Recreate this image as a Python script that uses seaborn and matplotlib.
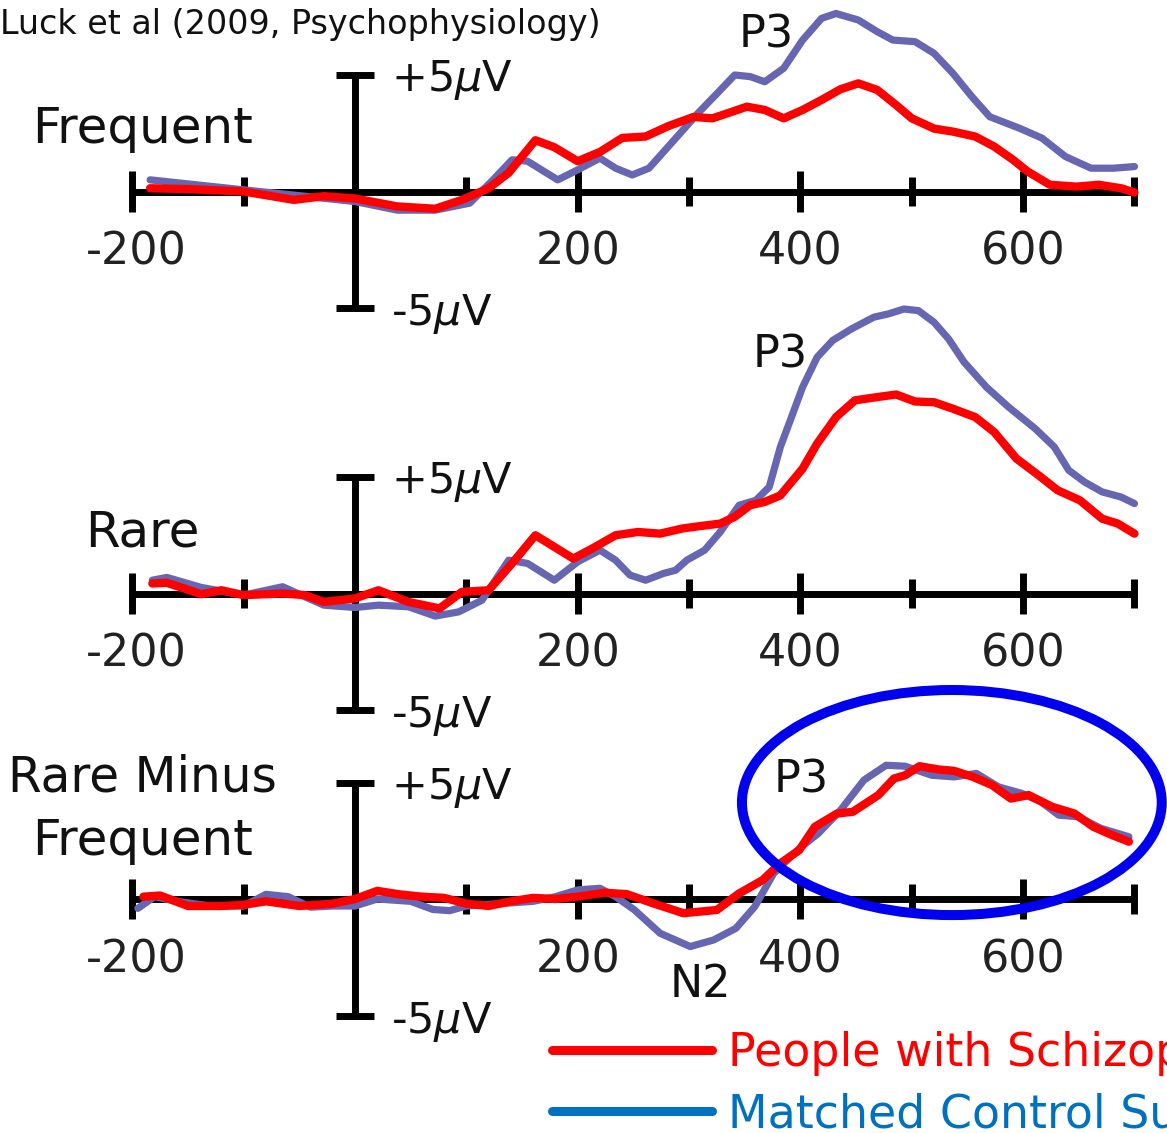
import matplotlib
matplotlib.use("Agg")
import matplotlib.pyplot as plt
from matplotlib.patches import Ellipse
from matplotlib.lines import Line2D
import pandas as pd
import seaborn as sns

# ---- ERP waveforms (ms, microvolts) ----
freq_pt_ms = [-184, -148, -100, -55, -28, 0, 38, 72, 96, 120, 138, 162, 179, 200, 220, 240, 261, 281,
              304, 321, 352, 368, 385, 402, 419, 436, 452, 469, 486, 500, 520, 537, 557, 574, 591,
              604, 624, 648, 668, 688, 700]
freq_pt_uv = [0.14, 0.10, 0.0, -0.36, -0.2, -0.3, -0.64, -0.74, -0.36, 0.14, 0.8, 2.2, 1.9, 1.3, 1.7,
              2.3, 2.36, 2.8, 3.2, 3.14, 3.64, 3.5, 3.14, 3.5, 3.93, 4.39, 4.64, 4.36, 3.71, 3.14,
              2.7, 2.57, 2.36, 1.93, 1.36, 0.86, 0.29, 0.21, 0.29, 0.14, -0.04]
freq_ct_ms = [-184, -100, 0, 38, 72, 103, 124, 141, 155, 182, 200, 220, 234, 249, 264, 284, 308, 325,
              341, 355, 368, 385, 402, 419, 432, 452, 469, 483, 503, 520, 537, 554, 570, 597, 617,
              638, 661, 681, 700]
freq_ct_uv = [0.5, 0.07, -0.43, -0.8, -0.8, -0.5, 0.5, 1.36, 1.3, 0.5, 0.93, 1.43, 1.0, 0.71, 1.0,
              2.07, 3.36, 4.2, 5.0, 4.93, 4.71, 5.29, 6.5, 7.43, 7.64, 7.36, 6.86, 6.5, 6.43, 5.93,
              5.07, 4.07, 3.21, 2.71, 2.29, 1.5, 1.0, 1.0, 1.07]

rare_pt_ms = [-182, -169, -138, -120, -100, -65, -45, -28, 0, 21, 48, 76, 96, 120, 141, 162, 179, 196,
              213, 234, 254, 274, 294, 311, 328, 341, 355, 368, 382, 402, 415, 432, 449, 469, 486,
              503, 520, 537, 557, 574, 594, 614, 631, 651, 671, 685, 700]
rare_pt_uv = [0.43, 0.46, -0.03, 0.14, -0.07, 0.0, -0.07, -0.36, -0.21, 0.14, -0.36, -0.64, 0.07,
              0.14, 1.29, 2.5, 2.0, 1.5, 1.93, 2.5, 2.64, 2.57, 2.79, 2.9, 3.0, 3.29, 3.79, 3.93,
              4.21, 5.36, 6.43, 7.57, 8.29, 8.43, 8.54, 8.24, 8.21, 7.93, 7.57, 6.93, 5.79, 5.07,
              4.43, 4.0, 3.21, 3.0, 2.57]
rare_ct_ms = [-182, -169, -138, -100, -65, -45, -28, 0, 21, 48, 72, 93, 114, 138, 155, 179, 200, 220,
              234, 247, 261, 277, 288, 298, 314, 328, 345, 360, 372, 382, 392, 402, 415, 429, 446,
              466, 479, 493, 506, 520, 533, 547, 567, 587, 611, 628, 641, 655, 671, 688, 700]
rare_ct_uv = [0.57, 0.69, 0.26, -0.07, 0.29, -0.14, -0.5, -0.6, -0.5, -0.57, -0.97, -0.79, -0.29,
              1.43, 1.29, 0.57, 1.36, 1.86, 1.43, 0.79, 0.57, 0.86, 1.0, 1.43, 1.86, 2.64, 3.79,
              4.0, 4.57, 6.29, 7.57, 8.86, 10.14, 10.86, 11.36, 11.86, 12.0, 12.21, 12.14, 11.64,
              10.93, 9.93, 8.86, 8.0, 7.07, 6.29, 5.29, 4.79, 4.36, 4.14, 3.86]

diff_pt_ms = [-190, -175, -150, -120, -100, -80, -50, -20, 0, 20, 40, 60, 80, 100, 120, 140, 160, 180,
              200, 224, 244, 268, 295, 325, 345, 366, 382, 399, 413, 433, 447, 470, 484, 494, 507,
              524, 538, 555, 572, 589, 605, 626, 646, 663, 680, 695]
diff_pt_uv = [0.1, 0.15, -0.3, -0.3, -0.25, -0.1, -0.3, -0.2, 0.0, 0.35, 0.2, 0.1, 0.05, -0.2, -0.3,
              -0.1, 0.05, 0.0, 0.1, 0.27, 0.21, -0.19, -0.61, -0.47, 0.24, 0.81, 1.53, 2.1, 3.1,
              3.67, 3.74, 4.46, 5.17, 5.31, 5.7, 5.56, 5.5, 5.24, 4.89, 4.31, 4.46, 3.96, 3.67,
              3.1, 2.74, 2.46]
diff_ct_ms = [-195, -180, -160, -130, -100, -80, -60, -40, -20, 0, 20, 50, 70, 85, 100, 130, 160, 180,
              200, 220, 234, 251, 274, 301, 322, 342, 359, 376, 399, 416, 436, 457, 477, 494, 518,
              538, 558, 578, 599, 616, 632, 649, 670, 695]
diff_ct_uv = [-0.4, 0.1, -0.1, -0.3, -0.3, 0.2, 0.1, -0.35, -0.3, -0.3, 0.0, -0.1, -0.45, -0.5, -0.3,
              -0.2, -0.1, 0.1, 0.39, 0.46, 0.1, -0.47, -1.47, -2.04, -1.76, -1.26, -0.33, 1.1, 2.17,
              2.81, 3.81, 5.1, 5.74, 5.7, 5.31, 5.24, 5.39, 4.81, 4.53, 4.17, 3.6, 3.53, 3.03, 2.67]

group_names = ["Matched Control Subjects", "People with Schizophrenia"]
legend_labels = ["People with Schizophrenia", "Matched Control Subjects"]
x_tick_labels = ["-200", "200", "400", "600"]
x_tick_label_pos = [-200, 200, 400, 600]
major_ticks = [-200, 200, 400, 600]
minor_ticks = [-100, 100, 300, 500, 700]
peak_labels = [("P3", 369, 6.16), ("P3", 382, 9.68), ("P3", 401, 4.55)]
n2_label = ("N2", 310, -4.2)

rows = []
series = [
    (0, group_names[1], freq_pt_ms, freq_pt_uv), (0, group_names[0], freq_ct_ms, freq_ct_uv),
    (1, group_names[1], rare_pt_ms, rare_pt_uv), (1, group_names[0], rare_ct_ms, rare_ct_uv),
    (2, group_names[1], diff_pt_ms, diff_pt_uv), (2, group_names[0], diff_ct_ms, diff_ct_uv),
]
for p, g, xs, ys in series:
    for x, y in zip(xs, ys):
        rows.append({"panel": p, "group": g, "ms": x, "uv": y})
df = pd.DataFrame(rows)

# ---- styling ----
sns.set_theme(style="white")
plt.rcParams["font.family"] = ["DejaVu Sans"]
plt.rcParams["mathtext.fontset"] = "dejavusans"

RED = "#ff0000"
SLATE = "#6666b3"
LEG_BLUE = "#0070c0"
RING = "#0000ee"
TXT = "#111111"

W, H = 1167, 1133
fig = plt.figure(figsize=(W / 100, H / 100), dpi=100)

px_per_ms = 1.1135
x0_px = 355
px_per_uv = 23.3
baselines = [191.5, 593.5, 899.0]

xlim = (-x0_px / px_per_ms, (W - x0_px) / px_per_ms)
palette = {group_names[0]: SLATE, group_names[1]: RED}

axes = []
for i, base in enumerate(baselines):
    ax = fig.add_axes([0, 0, 1, 1])
    ax.patch.set_alpha(0)
    ax.set_axis_off()
    ax.set_xlim(*xlim)
    ax.set_ylim(-(H - base) / px_per_uv, base / px_per_uv)
    axes.append(ax)

    # axes cross
    ax.plot([-200, 700], [0, 0], color="black", lw=5, solid_capstyle="butt", zorder=2)
    ax.vlines(major_ticks, -0.87, 0.87, color="black", lw=5, zorder=2)
    ax.vlines(minor_ticks, -0.64, 0.64, color="black", lw=5, zorder=2)
    ax.vlines(0, -5, 5, color="black", lw=5, zorder=2)
    ax.hlines([-5, 5], -17, 17, color="black", lw=5, zorder=2)

    sub = df[df["panel"] == i]
    sns.lineplot(data=sub, x="ms", y="uv", hue="group", hue_order=group_names,
                 palette=palette, estimator=None, sort=True, legend=False,
                 lw=6, ax=ax, zorder=3)
    for ln in ax.get_lines()[-2:]:
        ln.set_solid_capstyle("round")
        ln.set_solid_joinstyle("round")
    ax.get_lines()[-2].set_linewidth(5.2)

    for lab, pos in zip(x_tick_labels, x_tick_label_pos):
        ax.text(pos + (4 if lab.startswith("-") else 0), -3.15, lab, ha="center", va="baseline",
                fontsize=32, color="#222222")
    ax.text(32, 4.31, r"+5$\mathit{\mu}$V", ha="left", va="baseline", fontsize=31, color=TXT)
    ax.text(32, -5.73, r"-5$\mathit{\mu}$V", ha="left", va="baseline", fontsize=31, color=TXT)

axes[0].text(-191, 2.08, "Frequent", ha="center", va="baseline", fontsize=36, color=TXT)
axes[1].text(-191, 2.0, "Rare", ha="center", va="baseline", fontsize=36, color=TXT)
axes[2].text(-191, 4.6, "Rare Minus", ha="center", va="baseline", fontsize=35, color=TXT)
axes[2].text(-191, 1.89, "Frequent", ha="center", va="baseline", fontsize=36, color=TXT)

for ax, (lab, x, y) in zip(axes, peak_labels):
    ax.text(x, y, lab, ha="center", va="baseline", fontsize=32, color=TXT, zorder=5)
axes[2].text(n2_label[1], n2_label[2], n2_label[0], ha="center", va="baseline",
             fontsize=32, color=TXT, zorder=5)

# highlight ring around the difference-wave P3
axes[2].add_patch(Ellipse((536, 4.14), 377, 9.66, fill=False, edgecolor=RING, lw=7.2, zorder=6))

fig.text(0.0, 1 - 34 / H, "Luck et al (2009, Psychophysiology)", ha="left", va="baseline",
         fontsize=24, color=TXT)

handles = [Line2D([], [], color=RED, lw=6.5), Line2D([], [], color=LEG_BLUE, lw=6.5)]
fig.legend(handles, legend_labels, loc="upper left", bbox_to_anchor=(552 / W, 1 - 1031 / H),
           frameon=False, fontsize=33, handlelength=3.5, handletextpad=0.35,
           labelspacing=0.36, borderpad=0, borderaxespad=0, labelcolor=[RED, LEG_BLUE])

fig.savefig("out.png", dpi=100)
